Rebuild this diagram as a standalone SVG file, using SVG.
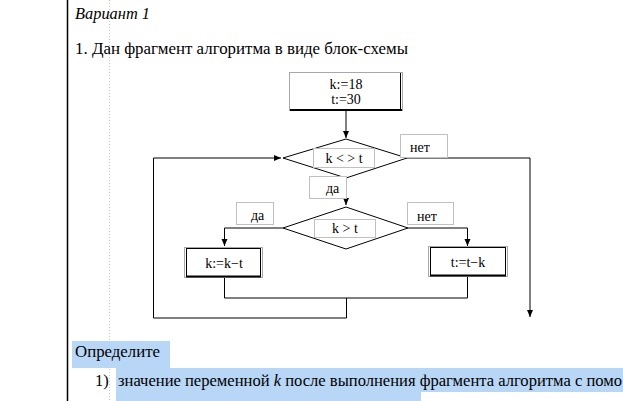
<svg xmlns="http://www.w3.org/2000/svg" width="623" height="401" viewBox="0 0 623 401">
<defs>
<marker id="arr" markerWidth="8" markerHeight="8" refX="7" refY="4" orient="auto" markerUnits="userSpaceOnUse">
<path d="M0,1 L7,4 L0,7 Z" fill="#000"/>
</marker>
<style>
text{font-family:'Liberation Serif','DejaVu Serif',serif;fill:#000}
.doc{font-size:16.5px}
.lb{font-size:14px}
.lbox{fill:#fff;stroke:#c0c0c0;stroke-width:1}
.shape{fill:#fff;stroke:#000;stroke-width:1}
.outer{fill:#fff;stroke:#a8a8a8;stroke-width:1}
.ln{fill:none;stroke:#000;stroke-width:1}
.edge{fill:none;stroke:#000}
</style>
</defs>
<rect width="623" height="401" fill="#fff"/>
<line x1="67.5" y1="0" x2="67.5" y2="401" stroke="#000" stroke-width="1.5"/>
<line x1="109.5" y1="0" x2="109.5" y2="401" stroke="#c8c8c8" stroke-width="1" stroke-dasharray="1,2"/>

<text class="doc" x="75" y="19" font-style="italic" textLength="75" lengthAdjust="spacingAndGlyphs">Вариант 1</text>
<text class="doc" x="75" y="54" textLength="333" lengthAdjust="spacingAndGlyphs">1. Дан фрагмент алгоритма в виде блок-схемы</text>

<g id="connectors">
<path class="ln" d="M346,111 V138" marker-end="url(#arr)"/>
<path class="ln" d="M346,178 V205" marker-end="url(#arr)"/>
<path class="ln" d="M407,158 H530 V317" marker-end="url(#arr)"/>
<path class="ln" d="M283,228 H224.5 V246" marker-end="url(#arr)"/>
<path class="ln" d="M408,228 H467.5 V246" marker-end="url(#arr)"/>
<path class="ln" d="M224.5,277 V298 H467.5 V276"/>
<path class="ln" d="M346.5,298 V318 H153.5 V158 H281" marker-end="url(#arr)"/>
</g>

<g id="init">
<rect class="outer" x="289.5" y="72.5" width="113" height="38"/>
<path class="edge" d="M290,110 H402" stroke-width="2"/>
<path class="edge" d="M400.5,73 V110" stroke-width="1"/>
<text class="lb" x="346" y="89" text-anchor="middle">k:=18</text>
<text class="lb" x="346" y="104" text-anchor="middle">t:=30</text>
</g>

<g id="cond1">
<polygon class="shape" points="346,139 407,158 346,178 283,158"/>
<rect class="lbox" x="313.5" y="148.5" width="61" height="19"/>
<text class="lb" x="344" y="163" text-anchor="middle">k &lt; &gt; t</text>
</g>

<g id="no1">
<rect class="lbox" x="400.5" y="134.5" width="47" height="23"/>
<text class="lb" x="410" y="152">нет</text>
</g>

<g id="yes1">
<rect class="lbox" x="309.5" y="176.5" width="37" height="22"/>
<text class="lb" x="326" y="193">да</text>
</g>

<g id="cond2">
<polygon class="shape" points="346,207 408,228 346,249 283,228"/>
<rect class="lbox" x="314.5" y="219.5" width="61" height="18"/>
<text class="lb" x="345" y="233" text-anchor="middle">k &gt; t</text>
</g>

<g id="yes2">
<rect class="lbox" x="236.5" y="202.5" width="37" height="22"/>
<text class="lb" x="251" y="220">да</text>
</g>

<g id="no2">
<rect class="lbox" x="407.5" y="202.5" width="46" height="22"/>
<text class="lb" x="417" y="221">нет</text>
</g>

<g id="stepk">
<rect class="outer" x="184.5" y="247.5" width="78" height="30"/>
<rect class="shape" x="186.5" y="248.5" width="74" height="28"/>
<path class="edge" d="M186,276.5 H261" stroke-width="2"/>
<text class="lb" x="224" y="268" text-anchor="middle">k:=k−t</text>
</g>

<g id="stept">
<rect class="outer" x="428.5" y="246.5" width="79" height="30"/>
<rect class="shape" x="430.5" y="247.5" width="75" height="28"/>
<path class="edge" d="M430,275.5 H506" stroke-width="2"/>
<text class="lb" x="468" y="267" text-anchor="middle">t:=t−k</text>
</g>

<rect x="72" y="341" width="98" height="27" fill="#b8d6f6"/>
<rect x="116" y="368" width="507" height="33" fill="#b8d6f6"/>
<rect x="421" y="392" width="202" height="9" fill="#fff"/>
<text class="doc" x="75" y="357" textLength="85" lengthAdjust="spacingAndGlyphs">Определите</text>
<text class="doc" x="95" y="386">1)</text>
<text class="doc" x="118" y="386" textLength="504" lengthAdjust="spacingAndGlyphs">значение переменной <tspan font-style="italic">k</tspan> после выполнения фрагмента алгоритма с помо</text>
</svg>
